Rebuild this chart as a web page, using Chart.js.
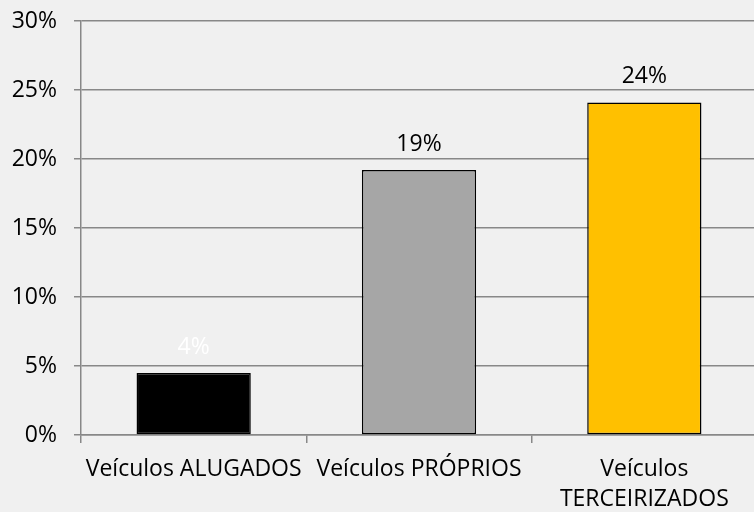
<!DOCTYPE html>
<html><head><meta charset="utf-8">
<script src="https://cdn.jsdelivr.net/npm/chart.js@4/dist/chart.umd.min.js"></script>
<style>
html,body{margin:0;padding:0;background:#f0f0f0;overflow:hidden;width:754px;height:512px}
#wrap{width:760px;height:512px;position:relative}
</style>
</head><body><div id="wrap"><canvas id="c" width="760" height="512"></canvas></div>
<script>
const categories = ['Veículos ALUGADOS', 'Veículos PRÓPRIOS', ['Veículos', 'TERCEIRIZADOS']];
const values = [4.49, 19.2, 24.1];
const barColors = ['#000000', '#a6a6a6', '#ffc000'];
const labelColors = ['#ffffff', '#000000', '#000000'];
const yTicks = [0, 5, 10, 15, 20, 25, 30];

const FONT = '"Open Sans", "DejaVu Sans", sans-serif';
const FS = 23;
const GRID = '#888888';

const valueLabels = {
  id: 'valueLabels',
  afterDatasetsDraw(chart) {
    const ctx = chart.ctx;
    const meta = chart.getDatasetMeta(0);
    ctx.save();
    ctx.font = FS + 'px ' + FONT;
    ctx.textAlign = 'center';
    ctx.textBaseline = 'alphabetic';
    meta.data.forEach((bar, i) => {
      ctx.fillStyle = labelColors[i];
      ctx.fillText(Math.round(values[i]) + '%', bar.x, bar.y - 19);
    });
    ctx.restore();
  }
};

function draw() {
  new Chart(document.getElementById('c'), {
    type: 'bar',
    data: {
      labels: categories,
      datasets: [{
        data: values,
        backgroundColor: barColors,
        borderColor: '#000000',
        borderWidth: 1.5,
        borderSkipped: false,
        categoryPercentage: 1,
        barPercentage: 0.507
      }]
    },
    options: {
      responsive: false,
      devicePixelRatio: 1,
      animation: false,
      layout: { padding: { top: 21, right: 3, left: 0, bottom: 0 } },
      plugins: { legend: { display: false }, tooltip: { enabled: false } },
      scales: {
        x: {
          afterFit(s) { s.height = 77; s.paddingLeft = 0; s.paddingRight = 0; },
          grid: { display: true, drawOnChartArea: false, drawTicks: true, tickLength: 8, offset: true, color: GRID, lineWidth: 1.5 },
          border: { display: true, color: GRID, width: 1.5 },
          ticks: { color: '#000', font: { family: FONT, size: FS, lineHeight: 1.32 }, padding: 11, maxRotation: 0, autoSkip: false }
        },
        y: {
          min: 0, max: 30,
          afterFit(s) { s.width = 81; s.paddingTop = 0; s.paddingBottom = 0; },
          afterBuildTicks(s) { s.ticks = yTicks.map(v => ({ value: v })); },
          grid: { color: GRID, lineWidth: 1.5, tickLength: 7, drawTicks: true },
          border: { display: true, color: GRID, width: 1.5 },
          ticks: { color: '#000', font: { family: FONT, size: FS }, padding: 17, callback: v => v + '%' }
        }
      }
    },
    plugins: [valueLabels]
  });
}
if (document.fonts && document.fonts.load) {
  document.fonts.load(FS + 'px "Open Sans"').then(draw, draw);
} else { draw(); }
</script>
</body></html>
